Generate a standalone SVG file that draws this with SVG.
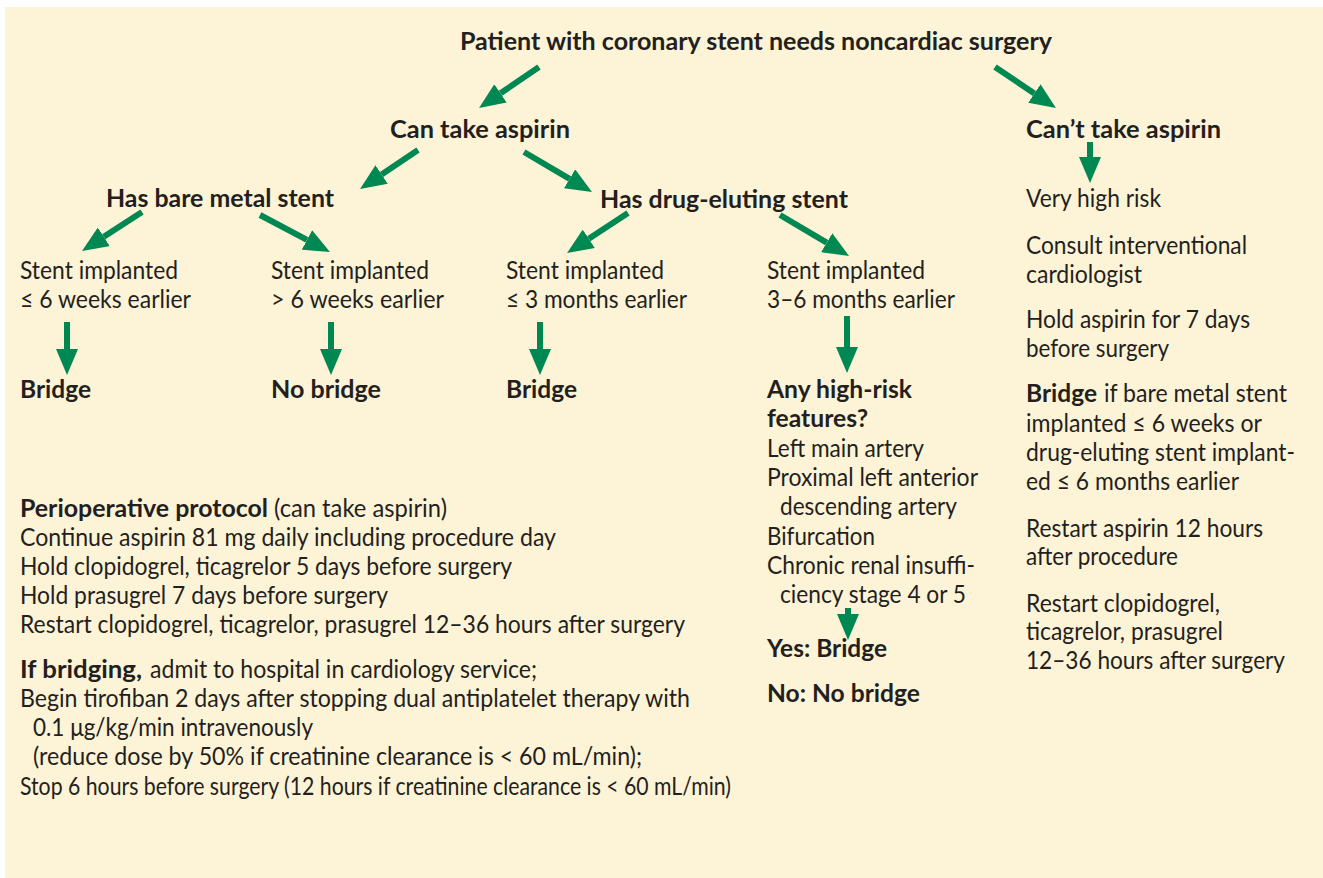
<svg xmlns="http://www.w3.org/2000/svg" width="1323" height="878" viewBox="0 0 1323 878">
<style>
text{font-family:Lato,"Open Sans","Liberation Sans",sans-serif;font-size:25px;fill:#231f20}
.b{font-weight:bold}
.arr{stroke:#008852;stroke-width:6;fill:none;marker-end:url(#head)}
</style>
<defs>
<marker id="head" markerUnits="userSpaceOnUse" viewBox="0 0 26 22" markerWidth="26" markerHeight="22" refX="0" refY="11" orient="auto">
<path d="M0,0 L26,11 L0,22 z" fill="#008852"/>
</marker>
</defs>
<rect x="0" y="0" width="1323" height="878" fill="#ffffff"/>
<rect x="5" y="7" width="1318" height="871" fill="#fdf3d6"/>

<g id="connectors">
<line class="arr" x1="539" y1="67" x2="500.5" y2="93.3"/>
<line class="arr" x1="995" y1="67" x2="1034.4" y2="93.5"/>
<line class="arr" x1="418" y1="150" x2="381.6" y2="174.5"/>
<line class="arr" x1="524" y1="152" x2="569.6" y2="178.8"/>
<line class="arr" x1="1090" y1="142" x2="1090" y2="157"/>
<line class="arr" x1="142" y1="212" x2="103.8" y2="236.8"/>
<line class="arr" x1="260" y1="215" x2="307" y2="239.9"/>
<line class="arr" x1="628" y1="213" x2="588.8" y2="238.7"/>
<line class="arr" x1="780" y1="215" x2="826.7" y2="242.7"/>
<line class="arr" x1="67" y1="322" x2="67" y2="349"/>
<line class="arr" x1="331" y1="322" x2="331" y2="349"/>
<line class="arr" x1="540" y1="322" x2="540" y2="349"/>
<line class="arr" x1="847" y1="316" x2="847" y2="347"/>
<line class="arr" x1="848" y1="608" x2="848" y2="614"/>
</g>

<g id="n-root"><text class="b" x="460" y="50" textLength="592" lengthAdjust="spacingAndGlyphs">Patient with coronary stent needs noncardiac surgery</text></g>
<g id="n-can"><text class="b" x="390" y="138" textLength="180" lengthAdjust="spacingAndGlyphs">Can take aspirin</text></g>
<g id="n-cant"><text class="b" x="1026" y="138" textLength="195" lengthAdjust="spacingAndGlyphs">Can’t take aspirin</text></g>
<g id="n-bms"><text class="b" x="106" y="207" textLength="228" lengthAdjust="spacingAndGlyphs">Has bare metal stent</text></g>
<g id="n-des"><text class="b" x="600" y="208" textLength="248" lengthAdjust="spacingAndGlyphs">Has drug-eluting stent</text></g>

<g id="n-bms-early">
<text x="20" y="279" textLength="158" lengthAdjust="spacingAndGlyphs">Stent implanted</text>
<text x="20" y="307.5" textLength="171" lengthAdjust="spacingAndGlyphs">≤ 6 weeks earlier</text>
</g>
<g id="n-bms-late">
<text x="271" y="279" textLength="158" lengthAdjust="spacingAndGlyphs">Stent implanted</text>
<text x="271" y="307.5" textLength="173" lengthAdjust="spacingAndGlyphs">&gt; 6 weeks earlier</text>
</g>
<g id="n-des-early">
<text x="506" y="279" textLength="158" lengthAdjust="spacingAndGlyphs">Stent implanted</text>
<text x="506" y="307.5" textLength="181" lengthAdjust="spacingAndGlyphs">≤ 3 months earlier</text>
</g>
<g id="n-des-mid">
<text x="767" y="279" textLength="158" lengthAdjust="spacingAndGlyphs">Stent implanted</text>
<text x="767" y="307.5" textLength="188" lengthAdjust="spacingAndGlyphs">3–6 months earlier</text>
</g>

<g id="n-bridge1"><text class="b" x="20" y="398" textLength="71" lengthAdjust="spacingAndGlyphs">Bridge</text></g>
<g id="n-nobridge1"><text class="b" x="271" y="398" textLength="110" lengthAdjust="spacingAndGlyphs">No bridge</text></g>
<g id="n-bridge2"><text class="b" x="506" y="398" textLength="71" lengthAdjust="spacingAndGlyphs">Bridge</text></g>

<g id="n-highrisk">
<text class="b" x="767" y="398" textLength="145" lengthAdjust="spacingAndGlyphs">Any high-risk</text>
<text class="b" x="767" y="427" textLength="101" lengthAdjust="spacingAndGlyphs">features?</text>
<text x="767" y="457" textLength="157" lengthAdjust="spacingAndGlyphs">Left main artery</text>
<text x="767" y="486" textLength="211" lengthAdjust="spacingAndGlyphs">Proximal left anterior</text>
<text x="780" y="515" textLength="177" lengthAdjust="spacingAndGlyphs">descending artery</text>
<text x="767" y="545" textLength="108" lengthAdjust="spacingAndGlyphs">Bifurcation</text>
<text x="767" y="574" textLength="208" lengthAdjust="spacingAndGlyphs">Chronic renal insuffi-</text>
<text x="780" y="603" textLength="186" lengthAdjust="spacingAndGlyphs">ciency stage 4 or 5</text>
</g>
<g id="n-yesno">
<text class="b" x="767" y="657" textLength="120" lengthAdjust="spacingAndGlyphs">Yes: Bridge</text>
<text class="b" x="767" y="702" textLength="153" lengthAdjust="spacingAndGlyphs">No: No bridge</text>
</g>

<g id="n-cant-details">
<text x="1026" y="207" textLength="135" lengthAdjust="spacingAndGlyphs">Very high risk</text>
<text x="1026" y="254" textLength="221" lengthAdjust="spacingAndGlyphs">Consult interventional</text>
<text x="1026" y="283" textLength="116" lengthAdjust="spacingAndGlyphs">cardiologist</text>
<text x="1026" y="328" textLength="224" lengthAdjust="spacingAndGlyphs">Hold aspirin for 7 days</text>
<text x="1026" y="357" textLength="143" lengthAdjust="spacingAndGlyphs">before surgery</text>
<text class="b" x="1026" y="402" textLength="71" lengthAdjust="spacingAndGlyphs">Bridge</text>
<text x="1104" y="402" textLength="183" lengthAdjust="spacingAndGlyphs">if bare metal stent</text>
<text x="1026" y="431.5" textLength="236" lengthAdjust="spacingAndGlyphs">implanted ≤ 6 weeks or</text>
<text x="1026" y="460.5" textLength="269" lengthAdjust="spacingAndGlyphs">drug-eluting stent implant-</text>
<text x="1026" y="489.5" textLength="213" lengthAdjust="spacingAndGlyphs">ed ≤ 6 months earlier</text>
<text x="1026" y="536.5" textLength="237" lengthAdjust="spacingAndGlyphs">Restart aspirin 12 hours</text>
<text x="1026" y="565" textLength="152" lengthAdjust="spacingAndGlyphs">after procedure</text>
<text x="1026" y="611.5" textLength="194" lengthAdjust="spacingAndGlyphs">Restart clopidogrel,</text>
<text x="1026" y="640" textLength="197" lengthAdjust="spacingAndGlyphs">ticagrelor, prasugrel</text>
<text x="1026" y="668.5" textLength="259" lengthAdjust="spacingAndGlyphs">12–36 hours after surgery</text>
</g>

<g id="n-protocol">
<text class="b" x="20" y="517" textLength="248" lengthAdjust="spacingAndGlyphs">Perioperative protocol</text>
<text x="274" y="517" textLength="173" lengthAdjust="spacingAndGlyphs">(can take aspirin)</text>
<text x="20" y="545.5" textLength="536" lengthAdjust="spacingAndGlyphs">Continue aspirin 81 mg daily including procedure day</text>
<text x="20" y="574.5" textLength="492" lengthAdjust="spacingAndGlyphs">Hold clopidogrel, ticagrelor 5 days before surgery</text>
<text x="20" y="603.5" textLength="368" lengthAdjust="spacingAndGlyphs">Hold prasugrel 7 days before surgery</text>
<text x="20" y="633" textLength="665" lengthAdjust="spacingAndGlyphs">Restart clopidogrel, ticagrelor, prasugrel 12–36 hours after surgery</text>
<text class="b" x="20" y="677.5" textLength="122" lengthAdjust="spacingAndGlyphs">If bridging,</text>
<text x="150" y="677.5" textLength="387" lengthAdjust="spacingAndGlyphs">admit to hospital in cardiology service;</text>
<text x="20" y="706.5" textLength="670" lengthAdjust="spacingAndGlyphs">Begin tirofiban 2 days after stopping dual antiplatelet therapy with</text>
<text x="33" y="736" textLength="280" lengthAdjust="spacingAndGlyphs">0.1 μg/kg/min intravenously</text>
<text x="33" y="765" textLength="609" lengthAdjust="spacingAndGlyphs">(reduce dose by 50% if creatinine clearance is &lt; 60 mL/min);</text>
<text x="20" y="795" textLength="711" lengthAdjust="spacingAndGlyphs">Stop 6 hours before surgery (12 hours if creatinine clearance is &lt; 60 mL/min)</text>
</g>
</svg>
